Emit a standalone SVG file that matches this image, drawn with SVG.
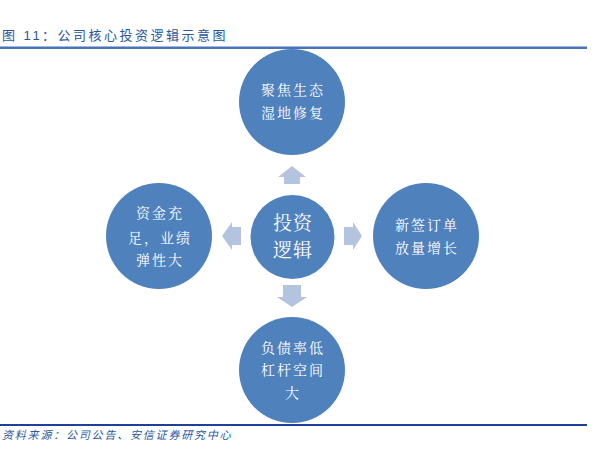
<svg xmlns="http://www.w3.org/2000/svg" width="613" height="456" viewBox="0 0 613 456">
<style>
.c{fill:#4f81bd}
.a{fill:#b4c4df}
.t{fill:#ffffff;font-family:"Noto Serif CJK SC","Noto Sans CJK SC",serif;font-size:14px;text-anchor:middle;letter-spacing:2px}
.tb{font-size:19px;letter-spacing:1px}
.h{fill:#2a56a0;font-family:"Liberation Sans","Noto Sans CJK SC",sans-serif;font-size:13px;letter-spacing:2.5px}
.f{fill:#2a56a0;font-family:"Liberation Sans","Noto Sans CJK SC",sans-serif;font-size:11px;font-style:italic;letter-spacing:1.8px}
</style>
<rect width="613" height="456" fill="#ffffff"/>
<text class="h" x="2" y="40">图 11：公司核心投资逻辑示意图</text>
<rect x="0" y="46.5" width="587" height="2.5" fill="#4a72b8"/>
<rect x="0" y="424" width="587" height="2" fill="#1f3f99"/>
<text class="f" x="2" y="439">资料来源：公司公告、安信证券研究中心</text>
<g id="connectors">
<polygon class="a" points="292,166 306,177 300,177 300,184 284,184 284,177 278,177"/>
<polygon class="a" points="222,236 232,222 232,227 241,227 241,245 232,245 232,250"/>
<polygon class="a" points="362,236 353,222 353,227 344,227 344,245 353,245 353,250"/>
<polygon class="a" points="292,307 307,297 301,297 301,285 283,285 283,297 277,297"/>
</g>
<g id="top"><circle class="c" cx="292" cy="102" r="53"/>
<text class="t" x="293" y="95">聚焦生态</text><text class="t" x="293" y="118">湿地修复</text></g>
<g id="center"><circle class="c" cx="292.5" cy="237" r="42"/>
<text class="t tb" x="293" y="230">投资</text><text class="t tb" x="293" y="257">逻辑</text></g>
<g id="left"><circle class="c" cx="159" cy="236" r="53"/>
<text class="t" x="160" y="218">资金充</text><text class="t" x="160" y="243">足，业绩</text><text class="t" x="160" y="265">弹性大</text></g>
<g id="right"><circle class="c" cx="426" cy="236" r="53"/>
<text class="t" x="427" y="230">新签订单</text><text class="t" x="427" y="253">放量增长</text></g>
<g id="bottom"><circle class="c" cx="292" cy="370" r="53"/>
<text class="t" x="293" y="353">负债率低</text><text class="t" x="293" y="375">杠杆空间</text><text class="t" x="293" y="398">大</text></g>
</svg>
